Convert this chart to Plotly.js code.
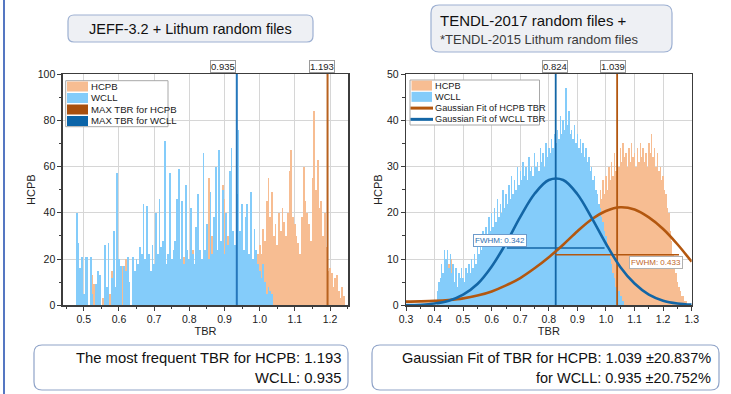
<!DOCTYPE html>
<html><head><meta charset="utf-8">
<script src="https://cdn.plot.ly/plotly-3.0.1.min.js"></script>
<style>html,body{margin:0;padding:0;background:#fff}#chart{width:731px;height:394px}</style>
</head><body><div id="chart"></div>
<script>
const W = 731, H = 394;

// ---------------- DATA ----------------
const SERIES = ['HCPB', 'WCLL'];
const BIN_WIDTH = 0.005;

// Left panel: JEFF-3.2 + Lithium random files (histogram counts per bin)
const LEFT_WCLL_START = 0.475;
const LEFT_WCLL = [
  0, 40, 27, 16, 21, 5, 21, 21, 0, 21,
  5, 0, 9, 15, 13, 0, 0, 26, 8, 27,
  0, 12, 32, 8, 57, 20, 17, 0, 17, 15,
  21, 10, 0, 21, 15, 20, 18, 25, 22, 44,
  20, 43, 22, 15, 26, 18, 40, 22, 46, 25,
  28, 71, 18, 22, 57, 20, 24, 28, 46, 59,
  20, 45, 18, 52, 24, 20, 42, 22, 18, 34,
  48, 24, 20, 66, 24, 35, 20, 49, 22, 38,
  60, 24, 67, 28, 50, 22, 40, 26, 58, 68,
  32, 26, 48, 76, 32, 44, 24, 38, 44, 22,
  49, 20, 33, 24, 18, 15, 12, 18, 10, 5,
  8, 6, 5, 0
];
const LEFT_HCPB_START = 0.500;
const LEFT_HCPB = [
  0, 0, 5, 0, 12, 13, 9, 0, 5, 0,
  0, 3, 0, 0, 0, 5, 15, 0, 6, 0,
  0, 10, 17, 17, 20, 8, 5, 0, 10, 12,
  8, 10, 14, 12, 17, 10, 16, 12, 8, 15,
  12, 16, 14, 18, 16, 20, 15, 13, 18, 14,
  18, 16, 20, 14, 22, 18, 16, 21, 18, 20,
  20, 16, 24, 18, 22, 16, 24, 20, 49, 22,
  26, 55, 24, 30, 22, 45, 20, 28, 22, 52,
  46, 24, 30, 22, 26, 20, 24, 18, 22, 16,
  20, 18, 22, 18, 20, 22, 18, 24, 20, 22,
  26, 22, 33, 28, 45, 55, 38, 49, 30, 35,
  26, 40, 32, 42, 36, 30, 40, 58, 67, 38,
  35, 30, 27, 22, 38, 60, 45, 40, 35, 28,
  55, 84, 50, 63, 42, 45, 30, 40, 25, 15,
  16, 14, 8, 12, 13, 6, 3, 8, 4, 0
];
const LEFT_MAX = {HCPB: 1.193, WCLL: 0.935};

// Right panel: TENDL-2017 random files (histogram counts per bin)
const RIGHT_WCLL_START = 0.405;
const RIGHT_WCLL = [
  0, 3, 5, 6, 9, 7, 12, 10, 12, 8,
  11, 7, 9, 5, 8, 4, 7, 6, 8, 6,
  5, 8, 7, 9, 7, 10, 8, 11, 9, 13,
  11, 14, 12, 16, 13, 17, 15, 19, 16, 20,
  17, 21, 18, 23, 19, 22, 20, 25, 21, 24,
  22, 26, 23, 28, 24, 27, 25, 30, 26, 29,
  27, 31, 28, 30, 27, 32, 29, 30, 28, 33,
  30, 31, 29, 34, 31, 33, 30, 35, 32, 34,
  33, 36, 34, 37, 35, 38, 36, 41, 37, 40,
  38, 47, 39, 42, 37, 38, 36, 39, 35, 37,
  34, 36, 33, 35, 32, 34, 31, 32, 29, 30,
  27, 28, 25, 24, 22, 21, 19, 18, 16, 15,
  13, 12, 10, 9, 7, 6, 4, 4, 3, 2,
  2, 1, 0
];
const RIGHT_HCPB_START = 0.405;
const RIGHT_HCPB = [
  0, 0, 1, 2, 3, 4, 6, 8, 5, 9,
  6, 10, 8, 5, 4, 3, 2, 3, 2, 3,
  2, 3, 3, 2, 3, 4, 3, 4, 3, 4,
  4, 5, 4, 5, 5, 6, 5, 6, 6, 7,
  6, 7, 7, 8, 7, 8, 8, 9, 8, 9,
  9, 10, 9, 10, 10, 11, 10, 11, 11, 12,
  11, 12, 12, 13, 12, 13, 13, 14, 13, 14,
  14, 15, 14, 15, 15, 16, 15, 16, 16, 17,
  16, 17, 17, 18, 17, 18, 18, 19, 18, 19,
  19, 20, 19, 20, 20, 21, 20, 21, 21, 22,
  21, 22, 22, 23, 22, 23, 21, 22, 20, 21,
  18, 22, 19, 24, 21, 25, 23, 27, 24, 28,
  25, 30, 27, 31, 28, 33, 29, 32, 30, 34,
  31, 35, 32, 33, 30, 34, 31, 35, 32, 33,
  30, 34, 31, 35, 32, 34, 31, 33, 30, 35,
  33, 37, 32, 34, 30, 33, 29, 30, 27, 28,
  25, 24, 21, 20, 16, 14, 11, 9, 7, 5,
  4, 3, 2, 2, 1, 1, 0
];
const FIT_CENTER = {HCPB: 1.039, WCLL: 0.824};
const FWHM = {HCPB: 0.433, WCLL: 0.342};
const FWHM_LEVEL = {HCPB: 10.95, WCLL: 12.4};
const FIT_X = [0.30, 0.35, 0.40, 0.45, 0.50, 0.55, 0.60, 0.65, 0.70, 0.75, 0.80, 0.85, 0.90, 0.95, 1.00, 1.05, 1.10, 1.15, 1.20, 1.25, 1.30];
const FIT_WCLL = [0.05, 0.13, 0.4, 1.0, 2.3, 4.6, 8.4, 13.4, 19.1, 24.1, 27.1, 27.1, 24.0, 18.9, 13.3, 8.3, 4.7, 2.3, 1.0, 0.4, 0.15];
const FIT_HCPB = [0.8, 0.85, 0.95, 1.15, 1.5, 2.1, 3.0, 4.3, 5.9, 8.0, 10.4, 13.1, 16.0, 18.6, 20.4, 21.2, 20.7, 19.0, 16.5, 13.2, 9.4];
const FIT_SPREAD = {HCPB: '20.837%', WCLL: '20.752%'};
const FIT_WCLL_TEXT = 0.935;

// ---------------- STYLE ----------------
const C_HCPB = '#F7BD92', C_WCLL = '#84CCFA';
const C_HCPB_D = '#B3570F', C_WCLL_D = '#1366A6';
const FONT = 'Liberation Sans, Arial, sans-serif';
const X = v => v / W, Y = v => 1 - v / H;

function rr(x0, y0, x1, y1, r) {
  const a = v => X(v).toFixed(5), b = v => Y(v).toFixed(5);
  return `M${a(x0+r)},${b(y0)} L${a(x1-r)},${b(y0)} Q${a(x1)},${b(y0)} ${a(x1)},${b(y0+r)} L${a(x1)},${b(y1-r)} Q${a(x1)},${b(y1)} ${a(x1-r)},${b(y1)} L${a(x0+r)},${b(y1)} Q${a(x0)},${b(y1)} ${a(x0)},${b(y1-r)} L${a(x0)},${b(y0+r)} Q${a(x0)},${b(y0)} ${a(x0+r)},${b(y0)} Z`;
}

const bar = (name, start, ys, color, xa, ya) => ({
  type: 'bar', name, x0: start, dx: BIN_WIDTH, y: ys, width: BIN_WIDTH,
  marker: {color, line: {width: 0}}, xaxis: xa, yaxis: ya, hoverinfo: 'x+y'
});
const vline = (name, xv, top, color, width, xa, ya) => ({
  type: 'scatter', mode: 'lines', name, x: [xv, xv], y: [0, top],
  line: {color, width}, xaxis: xa, yaxis: ya
});

const traces = [
  bar('HCPB', LEFT_HCPB_START, LEFT_HCPB, C_HCPB, 'x', 'y'),
  bar('WCLL', LEFT_WCLL_START, LEFT_WCLL, C_WCLL, 'x', 'y'),
  vline('MAX TBR for HCPB', LEFT_MAX.HCPB, 100, '#B8621F', 2, 'x', 'y'),
  vline('MAX TBR for WCLL', LEFT_MAX.WCLL, 100, '#2577BC', 2, 'x', 'y'),
  bar('HCPB', RIGHT_HCPB_START, RIGHT_HCPB, C_HCPB, 'x2', 'y2'),
  bar('WCLL', RIGHT_WCLL_START, RIGHT_WCLL, C_WCLL, 'x2', 'y2'),
  vline('HCPB fit centre', FIT_CENTER.HCPB, 50, C_HCPB_D, 1.8, 'x2', 'y2'),
  vline('WCLL fit centre', FIT_CENTER.WCLL, 50, C_WCLL_D, 1.8, 'x2', 'y2'),
  {type: 'scatter', mode: 'lines', name: 'FWHM WCLL',
   x: [FIT_CENTER.WCLL - FWHM.WCLL / 2, FIT_CENTER.WCLL + FWHM.WCLL / 2],
   y: [FWHM_LEVEL.WCLL, FWHM_LEVEL.WCLL], line: {color: C_WCLL_D, width: 1.5}, xaxis: 'x2', yaxis: 'y2'},
  {type: 'scatter', mode: 'lines', name: 'FWHM HCPB',
   x: [FIT_CENTER.HCPB - FWHM.HCPB / 2, FIT_CENTER.HCPB + FWHM.HCPB / 2],
   y: [FWHM_LEVEL.HCPB, FWHM_LEVEL.HCPB], line: {color: C_HCPB_D, width: 1.5}, xaxis: 'x2', yaxis: 'y2'},
  {type: 'scatter', mode: 'lines', name: 'Gaussian Fit of HCPB TBR', x: FIT_X, y: FIT_HCPB,
   line: {color: C_HCPB_D, width: 2.6, shape: 'spline'}, xaxis: 'x2', yaxis: 'y2'},
  {type: 'scatter', mode: 'lines', name: 'Gaussian Fit of WCLL TBR', x: FIT_X, y: FIT_WCLL,
   line: {color: C_WCLL_D, width: 2.6, shape: 'spline'}, xaxis: 'x2', yaxis: 'y2'}
];

const axisBase = {
  showline: true, mirror: true, linecolor: '#3c3c3c', linewidth: 1.3,
  ticks: 'outside', ticklen: 4, tickwidth: 1, tickcolor: '#3c3c3c',
  showgrid: true, gridcolor: '#d6d6d6', gridwidth: 1, zeroline: false,
  tickfont: {family: FONT, size: 10.5, color: '#1a1a1a'}, automargin: false, fixedrange: true
};
const yDom = [Y(305.3), Y(74)];

const shapes = [
  {type: 'line', xref: 'paper', yref: 'paper', x0: X(4), x1: X(4), y0: 0, y1: 1, line: {color: '#5577C2', width: 2}},
  // header boxes
  {type: 'path', xref: 'paper', yref: 'paper', path: rr(68, 15, 313, 42, 6), fillcolor: '#EEF0F4', line: {color: '#9DB0D2', width: 1.2}},
  {type: 'path', xref: 'paper', yref: 'paper', path: rr(431, 5, 672, 52, 8), fillcolor: '#EEF0F4', line: {color: '#9DB0D2', width: 1.2}},
  // bottom boxes
  {type: 'path', xref: 'paper', yref: 'paper', path: rr(34, 345, 348, 390, 8), fillcolor: '#FFFFFF', line: {color: '#8FA3C8', width: 1.2}},
  {type: 'path', xref: 'paper', yref: 'paper', path: rr(372, 345, 719, 390, 8), fillcolor: '#FFFFFF', line: {color: '#8FA3C8', width: 1.2}},
  // left legend
  {type: 'rect', xref: 'paper', yref: 'paper', layer: 'above', x0: X(65.7), x1: X(168), y0: Y(126.7), y1: Y(80.7), fillcolor: '#FFFFFF', line: {color: '#A8A8A8', width: 1}},
  // right legend
  {type: 'rect', xref: 'paper', yref: 'paper', layer: 'above', x0: X(410), x1: X(539.5), y0: Y(125), y1: Y(80), fillcolor: '#FFFFFF', line: {color: '#A8A8A8', width: 1}}
];
const annotations = [];
const txt = (text, x, y, size, opts = {}) => annotations.push(Object.assign({
  text, xref: 'paper', yref: 'paper', x: X(x), y: Y(y), xanchor: 'left', yanchor: 'middle',
  showarrow: false, font: {family: FONT, size, color: '#1a1a1a'}
}, opts));

// left legend entries
const leftLeg = [['HCPB', C_HCPB], ['WCLL', C_WCLL], ['MAX TBR for HCPB', '#A84F0E'], ['MAX TBR for WCLL', '#0B64A8']];
leftLeg.forEach((e, i) => {
  const cy = 86.5 + i * 11.5;
  shapes.push({type: 'rect', xref: 'paper', yref: 'paper', layer: 'above', x0: X(67), x1: X(88), y0: Y(cy + 5), y1: Y(cy - 5), fillcolor: e[1], line: {width: 0}});
  txt(e[0], 89, cy, 9.6);
});
// right legend entries
const rightLeg = [['HCPB', C_HCPB, 'box'], ['WCLL', C_WCLL, 'box'], ['Gaussian Fit of HCPB TBR', C_HCPB_D, 'line'], ['Gaussian Fit of WCLL TBR', C_WCLL_D, 'line']];
rightLeg.forEach((e, i) => {
  const cy = 85.6 + i * 11.25;
  if (e[2] === 'box') shapes.push({type: 'rect', xref: 'paper', yref: 'paper', layer: 'above', x0: X(411.5), x1: X(432), y0: Y(cy + 5), y1: Y(cy - 5), fillcolor: e[1], line: {width: 0}});
  else shapes.push({type: 'line', xref: 'paper', yref: 'paper', layer: 'above', x0: X(410.5), x1: X(433), y0: Y(cy), y1: Y(cy), line: {color: e[1], width: 3}});
  txt(e[0], 433, cy, 9.2);
});

// headers
txt('JEFF-3.2 + Lithum random files', 190.5, 29, 14.5, {xanchor: 'center', font: {family: FONT, size: 14.5, color: '#111'}});
txt('TENDL-2017 random files +', 437.5, 20.5, 15, {font: {family: FONT, size: 15, color: '#111'}});
txt('*TENDL-2015 Lithum random files', 437.5, 39.5, 13, {font: {family: FONT, size: 13, color: '#3a3a3a'}});
// bottom texts
txt(`The most frequent TBR for HCPB: ${LEFT_MAX.HCPB.toFixed(3)}`, 343, 357.5, 14.8, {xanchor: 'right', font: {family: FONT, size: 14.8, color: '#111'}});
txt(`WCLL: ${LEFT_MAX.WCLL.toFixed(3)}`, 343, 377.5, 14.8, {xanchor: 'right', font: {family: FONT, size: 14.8, color: '#111'}});
txt(`Gaussian Fit of TBR for HCPB: ${FIT_CENTER.HCPB.toFixed(3)} \u00B1${FIT_SPREAD.HCPB}`, 713, 357.5, 14.5, {xanchor: 'right', font: {family: FONT, size: 14.5, color: '#111'}});
txt(`for WCLL: ${FIT_WCLL_TEXT.toFixed(3)} \u00B1${FIT_SPREAD.WCLL}`, 713, 377.5, 14.5, {xanchor: 'right', font: {family: FONT, size: 14.5, color: '#111'}});

// value labels above plots
const topLabel = (v, xa, shift) => annotations.push({
  text: v.toFixed(3), xref: xa, yref: 'paper', x: v, y: Y(74), xanchor: 'center', yanchor: 'bottom',
  yshift: 1, xshift: shift, showarrow: false, bgcolor: '#fff', bordercolor: '#9a9a9a', borderwidth: 1, borderpad: 0,
  font: {family: FONT, size: 9.5, color: '#222'}
});
topLabel(LEFT_MAX.WCLL, 'x', -14);
topLabel(LEFT_MAX.HCPB, 'x', -6);
topLabel(FIT_CENTER.WCLL, 'x2', -1);
topLabel(FIT_CENTER.HCPB, 'x2', -4);

// FWHM labels
annotations.push({text: `FWHM: ${FWHM.WCLL.toFixed(3)}`, xref: 'x2', yref: 'y2', x: 0.63, y: 14.1, showarrow: false,
  bgcolor: '#fff', bordercolor: '#6E9BCB', borderwidth: 1, borderpad: 1, font: {family: FONT, size: 8, color: '#2F6FB0'}});
annotations.push({text: `FWHM: ${FWHM.HCPB.toFixed(3)}`, xref: 'x2', yref: 'y2', x: 1.175, y: 9.2, showarrow: false,
  bgcolor: '#fff', bordercolor: '#B0B0B0', borderwidth: 1, borderpad: 1, font: {family: FONT, size: 8, color: '#C0662A'}});

const layout = {
  width: W, height: H, margin: {l: 0, r: 0, t: 0, b: 0},
  paper_bgcolor: '#fff', plot_bgcolor: '#fff', showlegend: false,
  barmode: 'overlay', bargap: 0,
  font: {family: FONT, size: 10, color: '#222'},
  xaxis: Object.assign({}, axisBase, {domain: [X(62.7), X(348.3)], range: [0.44, 1.252], anchor: 'y',
    tick0: 0, dtick: 0.1, tickformat: '.1f',
    minor: {ticks: 'outside', ticklen: 2.5, tickcolor: '#3c3c3c', dtick: 0.05, tick0: 0, showgrid: false},
    title: {text: 'TBR', font: {family: FONT, size: 11, color: '#222'}, standoff: 3}}),
  yaxis: Object.assign({}, axisBase, {domain: yDom, range: [0, 100], anchor: 'x', dtick: 20,
    minor: {ticks: 'outside', ticklen: 2.5, tickcolor: '#3c3c3c', dtick: 10, showgrid: false},
    title: {text: 'HCPB', font: {family: FONT, size: 11, color: '#222'}, standoff: 0}}),
  xaxis2: Object.assign({}, axisBase, {domain: [X(406), X(691.7)], range: [0.3, 1.3], anchor: 'y2',
    tick0: 0, dtick: 0.1, tickformat: '.1f',
    minor: {ticks: 'outside', ticklen: 2.5, tickcolor: '#3c3c3c', dtick: 0.05, tick0: 0, showgrid: false},
    title: {text: 'TBR', font: {family: FONT, size: 11, color: '#222'}, standoff: 3}}),
  yaxis2: Object.assign({}, axisBase, {domain: yDom, range: [0, 50], anchor: 'x2', dtick: 10,
    minor: {ticks: 'outside', ticklen: 2.5, tickcolor: '#3c3c3c', dtick: 5, showgrid: false},
    title: {text: 'HCPB', font: {family: FONT, size: 11, color: '#222'}, standoff: 2}}),
  shapes, annotations
};

Plotly.newPlot('chart', traces, layout, {displayModeBar: false, staticPlot: true});
</script>
</body></html>
